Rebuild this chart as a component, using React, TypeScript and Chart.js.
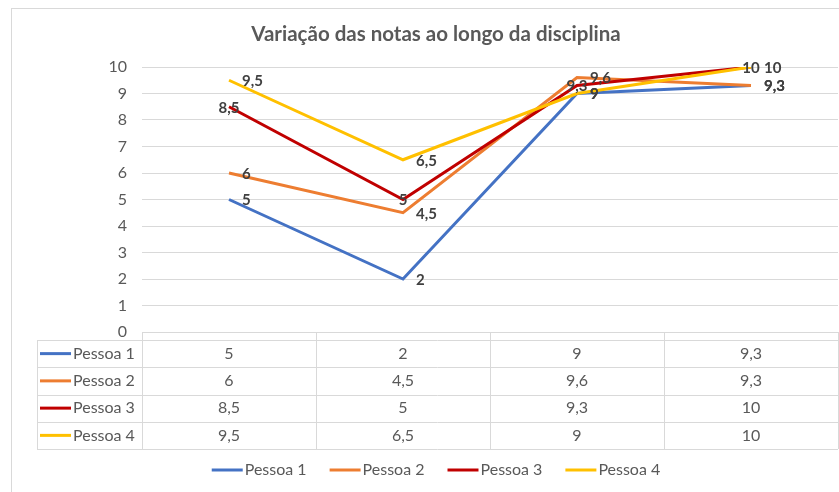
import React, { useEffect, useRef } from "react";
import { Chart, registerables } from "chart.js";

Chart.register(...registerables);

const title = "Variação das notas ao longo da disciplina";
const categories = ["", "", "", ""];
const seriesNames = ["Pessoa 1", "Pessoa 2", "Pessoa 3", "Pessoa 4"];
const pessoa1 = [5, 2, 9, 9.3];
const pessoa2 = [6, 4.5, 9.6, 9.3];
const pessoa3 = [8.5, 5, 9.3, 10];
const pessoa4 = [9.5, 6.5, 9, 10];
const yMin = 0;
const yMax = 10;
const yStep = 1;

const seriesValues = [pessoa1, pessoa2, pessoa3, pessoa4];
const colors = ["#4472C4", "#ED7D31", "#C00000", "#FFC000"];
const labelPlacement = ["right", "right", "center", "right"];
const FONT = "Lato, 'Open Sans', sans-serif";
const GRID = "#D9D9D9";
const TEXT = "#595959";
const fmt = (v: number) => String(v).replace(".", ",");

const CANVAS_W = 872;
const CANVAS_H = 500;

const excelPlugin = {
  id: "excelExtras",
  beforeDraw(chart: any) {
    const ctx = chart.ctx;
    ctx.save();
    ctx.fillStyle = "#ffffff";
    ctx.fillRect(0, 0, chart.width, chart.height);
    ctx.strokeStyle = GRID;
    ctx.lineWidth = 1;
    ctx.strokeRect(11.5, 8.5, chart.width + 40, chart.height + 40);
    ctx.fillStyle = TEXT;
    ctx.font = `bold 20.5px ${FONT}`;
    ctx.textAlign = "center";
    ctx.textBaseline = "middle";
    ctx.fillText(title, chart.width / 2, 34);
    ctx.restore();
  },
  afterDatasetsDraw(chart: any) {
    const ctx = chart.ctx;
    ctx.save();
    ctx.font = `bold 15px ${FONT}`;
    ctx.fillStyle = "#404040";
    ctx.textBaseline = "middle";
    chart.data.datasets.forEach((ds: any, i: number) => {
      const meta = chart.getDatasetMeta(i);
      meta.data.forEach((pt: any, j: number) => {
        const txt = fmt(ds.data[j]);
        if (labelPlacement[i] === "center") {
          ctx.textAlign = "center";
          ctx.fillText(txt, pt.x, pt.y + 1);
        } else {
          ctx.textAlign = "left";
          ctx.fillText(txt, pt.x + 13, pt.y + 1);
        }
      });
    });
    ctx.restore();
  },
  afterDraw(chart: any) {
    const ctx = chart.ctx;
    const { left, right, bottom } = chart.chartArea;
    const xs = chart.scales.x;
    const n = categories.length;
    const colW = (right - left) / n;
    const headerH = 8;
    const rowH = 27.25;
    const labelLeft = 37;
    const tableTop = bottom + headerH;
    const tableBottom = tableTop + rowH * seriesNames.length;
    ctx.save();
    ctx.strokeStyle = GRID;
    ctx.lineWidth = 1;
    ctx.beginPath();
    for (let i = 0; i <= n; i++) {
      const xx = Math.round(left + i * colW) + 0.5;
      ctx.moveTo(xx, bottom);
      ctx.lineTo(xx, tableBottom);
    }
    ctx.moveTo(labelLeft + 0.5, tableTop);
    ctx.lineTo(labelLeft + 0.5, tableBottom);
    for (let r = 0; r <= seriesNames.length; r++) {
      const yy = Math.round(tableTop + r * rowH) + 0.5;
      ctx.moveTo(labelLeft, yy);
      ctx.lineTo(right, yy);
    }
    ctx.stroke();

    ctx.font = `16px ${FONT}`;
    ctx.textBaseline = "middle";
    seriesNames.forEach((name, r) => {
      const cy = tableTop + r * rowH + rowH / 2;
      ctx.strokeStyle = colors[r];
      ctx.lineWidth = 3;
      ctx.beginPath();
      ctx.moveTo(40, cy);
      ctx.lineTo(71, cy);
      ctx.stroke();
      ctx.fillStyle = TEXT;
      ctx.textAlign = "left";
      ctx.fillText(name, 73, cy);
      ctx.textAlign = "center";
      seriesValues[r].forEach((v, j) => {
        ctx.fillText(fmt(v), xs.getPixelForValue(j), cy);
      });
    });

    // legend
    const sample = 31;
    const gap = 2;
    const spacing = 23;
    const widths = seriesNames.map((s) => sample + gap + ctx.measureText(s).width);
    const total = widths.reduce((a, b) => a + b, 0) + spacing * (seriesNames.length - 1);
    let lx = chart.width / 2 - total / 2;
    const ly = 470;
    seriesNames.forEach((name, i) => {
      ctx.strokeStyle = colors[i];
      ctx.lineWidth = 3;
      ctx.beginPath();
      ctx.moveTo(lx, ly);
      ctx.lineTo(lx + sample, ly);
      ctx.stroke();
      ctx.fillStyle = TEXT;
      ctx.textAlign = "left";
      ctx.fillText(name, lx + sample + gap, ly);
      lx += widths[i] + spacing;
    });
    ctx.restore();
  },
};

export default function App() {
  const ref = useRef<HTMLCanvasElement>(null);
  useEffect(() => {
    if (!ref.current) return;
    const chart = new Chart(ref.current, {
      type: "line",
      data: {
        labels: categories,
        datasets: seriesNames.map((name, i) => ({
          label: name,
          data: seriesValues[i],
          borderColor: colors[i],
          backgroundColor: colors[i],
          borderWidth: 3,
          pointRadius: 0,
          tension: 0,
          fill: false,
          order: seriesNames.length - i,
        })),
      },
      options: {
        animation: false,
        responsive: false,
        devicePixelRatio: 1,
        layout: { padding: { left: 0, right: CANVAS_W - 838, top: 67, bottom: CANVAS_H - 332 } },
        plugins: {
          legend: { display: false },
          title: { display: false },
          tooltip: { enabled: false },
        },
        scales: {
          x: { display: false, offset: true },
          y: {
            min: yMin,
            max: yMax,
            afterFit: (s: any) => {
              s.width = 142;
            },
            border: { display: false },
            grid: { color: GRID, lineWidth: 1, drawTicks: false },
            ticks: {
              stepSize: yStep,
              padding: 15,
              color: TEXT,
              font: { family: FONT, size: 16 },
            },
          },
        },
      },
      plugins: [excelPlugin],
    });
    return () => chart.destroy();
  }, []);
  return (
    <div
      style={{
        position: "fixed",
        left: 0,
        top: 0,
        width: 839,
        height: 492,
        overflow: "hidden",
        background: "#fff",
      }}
    >
      <canvas ref={ref} width={CANVAS_W} height={CANVAS_H} style={{ display: "block" }} />
    </div>
  );
}
